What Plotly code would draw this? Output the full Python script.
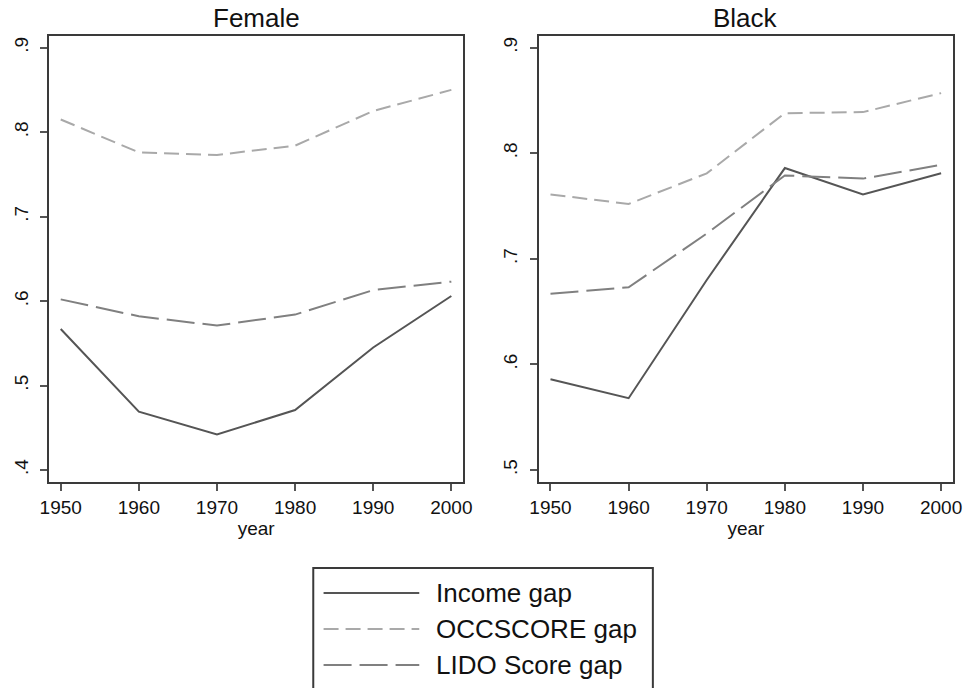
import plotly.graph_objects as go

years = [1950, 1960, 1970, 1980, 1990, 2000]

female_income = [0.567, 0.469, 0.442, 0.471, 0.545, 0.606]
female_occscore = [0.815, 0.776, 0.773, 0.784, 0.825, 0.850]
female_lido = [0.602, 0.582, 0.571, 0.584, 0.613, 0.623]

black_income = [0.586, 0.568, 0.680, 0.786, 0.761, 0.781]
black_occscore = [0.761, 0.752, 0.781, 0.838, 0.839, 0.857]
black_lido = [0.667, 0.673, 0.724, 0.779, 0.776, 0.789]

series_names = ["Income gap", "OCCSCORE gap", "LIDO Score gap"]
panel_titles = ["Female", "Black"]
y_ticks_left = [0.4, 0.5, 0.6, 0.7, 0.8, 0.9]
y_ticktext_left = [".4", ".5", ".6", ".7", ".8", ".9"]
y_ticks_right = [0.5, 0.6, 0.7, 0.8, 0.9]
y_ticktext_right = [".5", ".6", ".7", ".8", ".9"]

colors = ["#555555", "#a9a9a9", "#808080"]
dashes = ["solid", "15px,7px", "28px,8px"]
FONT = "Liberation Sans, Arial, sans-serif"

W, H = 973.0, 688.0


def px(X):
    return X / W


def py(Y):
    return 1 - Y / H


fig = go.Figure()
panels = [
    ("x", "y", [female_income, female_occscore, female_lido]),
    ("x2", "y2", [black_income, black_occscore, black_lido]),
]
for xa, ya, vals in panels:
    for name, v, c, d in zip(series_names, vals, colors, dashes):
        fig.add_trace(go.Scatter(
            x=years, y=v, mode="lines", name=name, xaxis=xa, yaxis=ya,
            line=dict(color=c, width=2, dash=d), showlegend=False,
        ))

axis_common = dict(
    showline=True, linecolor="#3a3a3a", linewidth=2, mirror=True,
    ticks="outside", ticklen=7, tickwidth=1.5, tickcolor="#555555",
    showgrid=False, zeroline=False,
    tickfont=dict(family=FONT, size=19, color="#111111"),
)
xr = [1948.53, 2001.51]
ydom = [py(482), py(36)]
fig.update_layout(
    width=int(W), height=int(H),
    margin=dict(l=0, r=0, t=0, b=0),
    paper_bgcolor="white", plot_bgcolor="white",
    font=dict(family=FONT, color="#111111"),
    xaxis=dict(domain=[px(41), px(462.7)], range=xr, tickvals=years,
               title=dict(text="year", font=dict(size=19), standoff=0), anchor="y", **axis_common),
    yaxis=dict(domain=ydom, range=[0.3858, 0.9138], tickvals=y_ticks_left,
               ticktext=y_ticktext_left, tickangle=-90, ticklabelstandoff=5,
               anchor="x", **axis_common),
    xaxis2=dict(domain=[px(540), px(961.7)], range=xr, tickvals=years,
                title=dict(text="year", font=dict(size=19), standoff=0), anchor="y2", **axis_common),
    yaxis2=dict(domain=ydom, range=[0.4886, 0.9111], tickvals=y_ticks_right,
                ticktext=y_ticktext_right, tickangle=-90, ticklabelstandoff=5,
                anchor="x2", **axis_common),
)

# panel titles
for t, xc in zip(panel_titles, [(41 + 462.7) / 2, (540 + 961.7) / 2]):
    fig.add_annotation(text=t, x=px(xc), y=py(18), xref="paper", yref="paper",
                       xanchor="center", yanchor="middle", showarrow=False,
                       font=dict(family=FONT, size=26, color="#111111"))

# legend box (drawn manually to match the long line samples)
fig.add_shape(type="rect", xref="paper", yref="paper",
              x0=px(310), x1=px(656), y0=py(700), y1=py(568),
              line=dict(color="#3a3a3a", width=2), fillcolor="white", layer="above")
rows_y = [593, 629, 665]
for name, c, d, yy in zip(series_names, colors, dashes, rows_y):
    fig.add_shape(type="line", xref="paper", yref="paper",
                  x0=px(320.5), x1=px(418), y0=py(yy), y1=py(yy),
                  line=dict(color=c, width=2, dash=d), layer="above")
    fig.add_annotation(text=name, x=px(433), y=py(yy), xref="paper", yref="paper",
                       xanchor="left", yanchor="middle", showarrow=False,
                       font=dict(family=FONT, size=26, color="#111111"))

fig.write_html("out.html", config={"displayModeBar": False},
               post_script="document.body.style.margin='0';")
